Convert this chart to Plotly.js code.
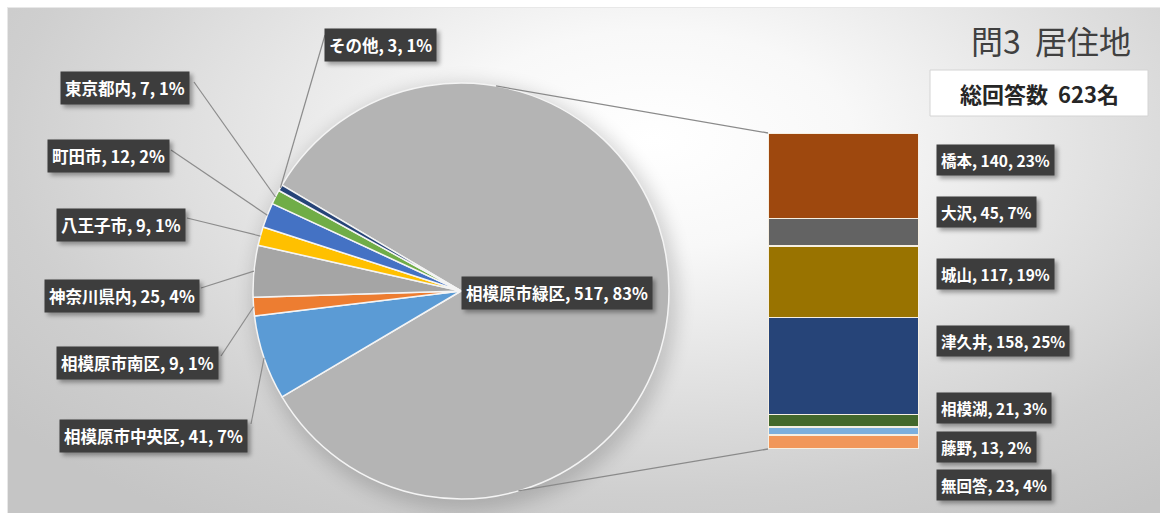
<!DOCTYPE html>
<html>
<head>
<meta charset="utf-8">
<script src="https://cdn.plot.ly/plotly-3.0.1.min.js"></script>
<style>
  html, body { margin: 0; padding: 0; background: #ffffff; }
  #wrap { position: relative; width: 1160px; height: 513px; overflow: hidden; background: #ffffff; }
  #bg { position: absolute; left: 7px; top: 7px; width: 1153px; height: 506px;
        background: radial-gradient(ellipse 72% 90% at 56% 26%, #ffffff 0%, #f8f8f8 24%, #e4e4e4 50%, #cfcfcf 78%, #c5c5c5 100%);
        border-top: 1px solid #e8e8e8; border-left: 1px solid #e8e8e8; }
  #pieshadow { position: absolute; left: 254px; top: 83px; width: 414px; height: 416px; border-radius: 50%;
        box-shadow: 4px 6px 18px 6px rgba(0,0,0,0.16); }
  #chart { position: absolute; left: 0; top: 0; width: 1160px; height: 513px; }
  #chart .annotation rect.bg { filter: drop-shadow(3px 3px 2px rgba(0,0,0,0.35)); }
</style>
</head>
<body>
<div id="wrap">
  <div id="bg"></div>
  <div id="pieshadow"></div>
  <div id="chart"></div>
</div>
<script>
// ---- data ----
const pieLabels = ["相模原市緑区", "相模原市中央区", "相模原市南区", "神奈川県内", "八王子市", "町田市", "東京都内", "その他"];
const pieValues = [517, 41, 9, 25, 9, 12, 7, 3];
const piePercents = [83, 7, 1, 4, 1, 2, 1, 1];

const barLabels = ["無回答", "藤野", "相模湖", "津久井", "城山", "大沢", "橋本"];
const barValues = [23, 13, 21, 158, 117, 45, 140];
const barPercents = [4, 2, 3, 25, 19, 7, 23];

const chartTitle = "問3  居住地";
const totalLabelPrefix = "総回答数  ";
const totalLabelSuffix = "名";

// ---- styles ----
const pieColors = ["#b4b4b4", "#5b9bd5", "#ed7d31", "#a5a5a5", "#ffc000", "#4472c4", "#70ad47", "#264478"];
const barColors = ["#f1975a", "#7cafdd", "#43682b", "#264478", "#997300", "#636363", "#9e480e"];
// label centers in pixels
const pieLabelPos = [[557, 293], [153, 436], [137, 363], [122, 296], [121, 225], [109, 156], [125, 88], [380, 45]];
const barLabelPos = [[992, 485], [992, 447], [999, 408], [1006, 341], [995, 274], [985, 212], [992, 160]];
// leader line start points (near label box edges), null = no leader
const leaderStart = [null, [251, 424], [221, 356], [201, 288], [187, 218], [171, 150], [194, 82], [325, 35]];

const W = 1160, H = 513;
const px = x => x / W;
const py = y => 1 - y / H;

const pieCx = 461, pieCy = 291, pieR = 208;
const barL = 768, barR = 919, barT = 133, barB = 449;
const FONT = '"Noto Sans CJK JP", "Noto Sans", sans-serif';

const total = pieValues.reduce((a, b) => a + b, 0);
const otherSum = pieValues[0];
const smallSum = total - otherSum;
const rotation = 270 + (smallSum / total * 360) / 2;

const traces = [];
traces.push({
  type: 'pie',
  labels: pieLabels,
  values: pieValues,
  sort: false,
  direction: 'clockwise',
  rotation: rotation,
  marker: { colors: pieColors, line: { color: '#f4f4f4', width: 1.5 } },
  textinfo: 'none',
  hoverinfo: 'label+value+percent',
  showlegend: false,
  domain: { x: [px(pieCx - pieR), px(pieCx + pieR)], y: [py(pieCy + pieR), py(pieCy - pieR)] }
});

barLabels.forEach((lab, i) => {
  traces.push({
    type: 'bar',
    x: [0],
    y: [barValues[i]],
    name: lab,
    width: [1],
    marker: { color: barColors[i], line: { color: '#f6efe2', width: 1.2 } },
    showlegend: false,
    hoverinfo: 'name+y',
    xaxis: 'x', yaxis: 'y'
  });
});

const annotations = [];
function addLabel(text, cx, cy, size, xanchor) {
  annotations.push({
    xref: 'paper', yref: 'paper', x: px(cx), y: py(cy), xanchor: xanchor || 'center', yanchor: 'middle',
    showarrow: false, text: text,
    font: { family: FONT, size: size, color: '#ffffff', weight: 'bold' },
    bgcolor: '#3d3d3d', borderpad: 4
  });
}
pieLabels.forEach((lab, i) => {
  addLabel(lab + ', ' + pieValues[i] + ', ' + piePercents[i] + '%', pieLabelPos[i][0], pieLabelPos[i][1], 16.5);
});
barLabels.forEach((lab, i) => {
  addLabel(lab + ', ' + barValues[i] + ', ' + barPercents[i] + '%', barLabelPos[i][0] - (barLabelPos[i][0] - 936), barLabelPos[i][1], 15.5, 'left');
});

annotations.push({
  xref: 'paper', yref: 'paper', x: px(1051), y: py(40), xanchor: 'center', yanchor: 'middle',
  showarrow: false, text: chartTitle,
  font: { family: FONT, size: 32, color: '#404040' }
});
annotations.push({
  xref: 'paper', yref: 'paper', x: px(1039), y: py(93), xanchor: 'center', yanchor: 'middle',
  showarrow: false, text: totalLabelPrefix + total + totalLabelSuffix,
  font: { family: FONT, size: 22, color: '#262626', weight: 'bold' }
});

const shapes = [];
// leader lines from labels to slice mid-points on the pie edge
let cum = rotation;
pieValues.forEach((v, i) => {
  const span = v / total * 360;
  const mid = (cum + span / 2) * Math.PI / 180;
  cum += span;
  if (!leaderStart[i]) return;
  const ex = pieCx + pieR * Math.sin(mid), ey = pieCy - pieR * Math.cos(mid);
  shapes.push({ type: 'line', xref: 'paper', yref: 'paper',
    x0: px(leaderStart[i][0]), y0: py(leaderStart[i][1]), x1: px(ex), y1: py(ey),
    line: { color: '#8c8c8c', width: 1.2 } });
});

// connector lines from pie edge to bar corners
const topAng = 9.7 * Math.PI / 180, botAng = 164 * Math.PI / 180;
const p1 = [pieCx + pieR * Math.sin(topAng), pieCy - pieR * Math.cos(topAng)];
const p2 = [pieCx + pieR * Math.sin(botAng), pieCy - pieR * Math.cos(botAng)];
shapes.push(
  { type: 'line', xref: 'paper', yref: 'paper', x0: px(p1[0]), y0: py(p1[1]), x1: px(barL), y1: py(barT),
    line: { color: '#8a8a8a', width: 1.3 } },
  { type: 'line', xref: 'paper', yref: 'paper', x0: px(p2[0]), y0: py(p2[1]), x1: px(barL), y1: py(barB),
    line: { color: '#8a8a8a', width: 1.3 } },
  { type: 'rect', xref: 'paper', yref: 'paper', x0: px(930), x1: px(1148), y0: py(116), y1: py(70),
    fillcolor: '#ffffff', line: { color: '#d4d4d4', width: 1 }, layer: 'below' }
);

const layout = {
  width: W, height: H,
  margin: { l: 0, r: 0, t: 0, b: 0, pad: 0 },
  paper_bgcolor: 'rgba(0,0,0,0)',
  plot_bgcolor: 'rgba(0,0,0,0)',
  barmode: 'stack',
  bargap: 0,
  showlegend: false,
  xaxis: { domain: [px(barL), px(barR)], range: [-0.5, 0.5], visible: false, fixedrange: true },
  yaxis: { domain: [py(barB), py(barT)], range: [0, otherSum], visible: false, fixedrange: true },
  annotations: annotations,
  shapes: shapes
};

Plotly.newPlot('chart', traces, layout, { displayModeBar: false, staticPlot: true });
</script>
</body>
</html>
